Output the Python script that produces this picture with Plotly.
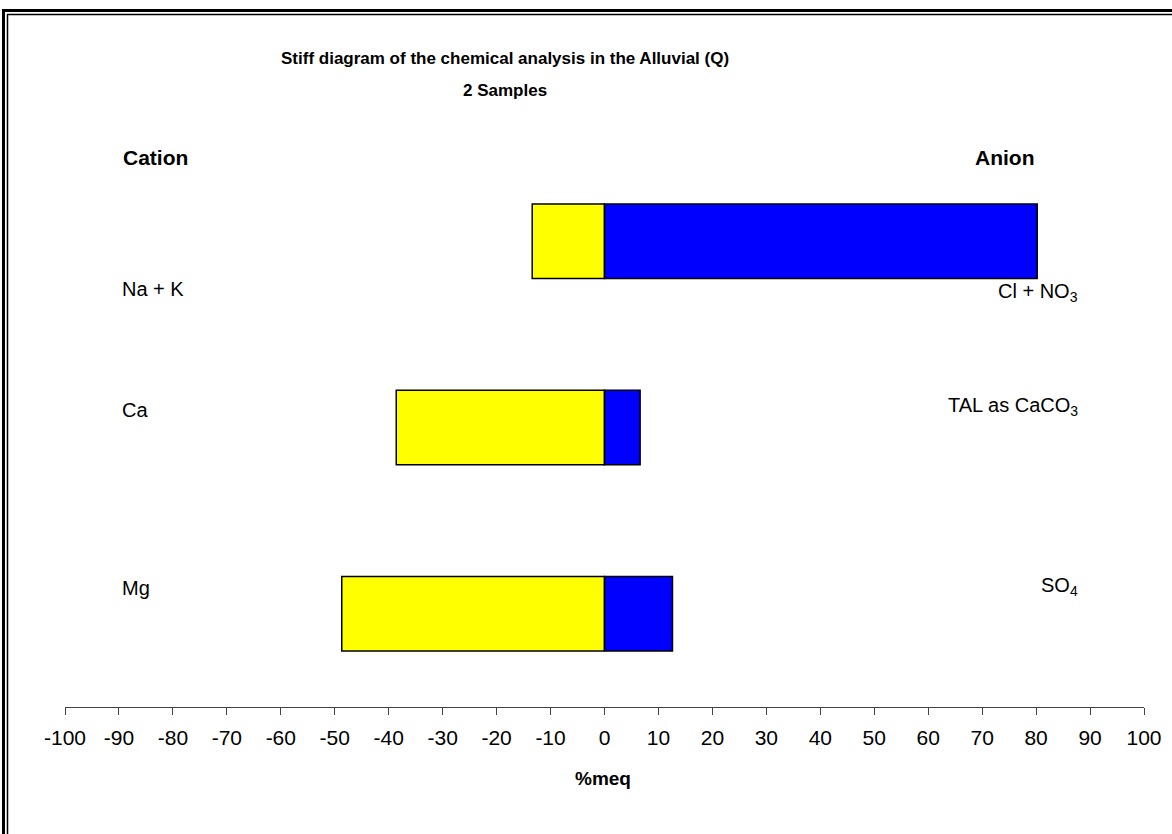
import plotly.graph_objects as go

# ---------------- data ----------------
cation_labels = ["Na + K", "Ca", "Mg"]
anion_labels = ["Cl + NO<sub>3</sub>", "TAL as CaCO<sub>3</sub>", "SO<sub>4</sub>"]
row_positions = [3, 2, 1]
cation_meq = [-13.4, -38.6, -48.7]   # % meq (plotted to the left)
anion_meq = [80.2, 6.6, 12.6]        # % meq (plotted to the right)
tick_values = list(range(-100, 101, 10))
tick_labels = [str(v) for v in tick_values]

title_line1 = "Stiff diagram of the chemical analysis in the Alluvial (Q)"
title_line2 = "2 Samples"
x_title = "%meq"

# ---------------- layout geometry (pixels) ----------------
W_FIG, H_FIG = 1172, 834
L, R, T, B = 65, 28, 148, 127
PW = W_FIG - L - R
PH = H_FIG - T - B
BOTTOM = H_FIG - B


def px(xp):
    return (xp - L) / PW


def py(yp):
    return (BOTTOM - yp) / PH


FONT = "Liberation Sans, Arial, sans-serif"

fig = go.Figure()
fig.add_trace(go.Bar(
    orientation="h", y=row_positions, x=cation_meq, width=0.4,
    marker=dict(color="#FFFF00", line=dict(color="#000000", width=1.5)),
    name="Cation", showlegend=False,
))
fig.add_trace(go.Bar(
    orientation="h", y=row_positions, x=anion_meq, width=0.4,
    marker=dict(color="#0000FF", line=dict(color="#000000", width=1.5)),
    name="Anion", showlegend=False,
))

annotations = []
# title
annotations.append(dict(text="<b>" + title_line1 + "</b>", x=px(505), y=py(58),
                        xref="paper", yref="paper", showarrow=False,
                        xanchor="center", yanchor="middle",
                        font=dict(family=FONT, size=17, color="black")))
annotations.append(dict(text="<b>" + title_line2 + "</b>", x=px(505), y=py(90),
                        xref="paper", yref="paper", showarrow=False,
                        xanchor="center", yanchor="middle",
                        font=dict(family=FONT, size=17, color="black")))
# headers
annotations.append(dict(text="<b>Cation</b>", x=px(121), y=py(157),
                        xref="paper", yref="paper", showarrow=False,
                        xanchor="left", yanchor="middle",
                        font=dict(family=FONT, size=21, color="black")))
annotations.append(dict(text="<b>Anion</b>", x=px(1036), y=py(157),
                        xref="paper", yref="paper", showarrow=False,
                        xanchor="right", yanchor="middle",
                        font=dict(family=FONT, size=21, color="black")))
# ion labels
left_label_y = [289, 410, 588]
right_label_y = [292, 406, 586]
for lab, yp in zip(cation_labels, left_label_y):
    annotations.append(dict(text=lab, x=px(120), y=py(yp), xref="paper", yref="paper",
                            showarrow=False, xanchor="left", yanchor="middle",
                            font=dict(family=FONT, size=20, color="black")))
for lab, yp in zip(anion_labels, right_label_y):
    annotations.append(dict(text=lab, x=px(1080), y=py(yp), xref="paper", yref="paper",
                            showarrow=False, xanchor="right", yanchor="middle",
                            font=dict(family=FONT, size=20, color="black")))
# x axis title
annotations.append(dict(text="<b>" + x_title + "</b>", x=px(603), y=py(778),
                        xref="paper", yref="paper", showarrow=False,
                        xanchor="center", yanchor="middle",
                        font=dict(family=FONT, size=19, color="black")))

shapes = [
    dict(type="rect", xref="paper", yref="paper",
         x0=px(3.5), y0=py(900), x1=px(1300), y1=py(10.5),
         line=dict(color="black", width=3), fillcolor="rgba(0,0,0,0)", layer="above"),
    dict(type="rect", xref="paper", yref="paper",
         x0=px(7.5), y0=py(900), x1=px(1300), y1=py(14.5),
         line=dict(color="black", width=1.5), fillcolor="rgba(0,0,0,0)", layer="above"),
]

fig.update_layout(
    width=W_FIG, height=H_FIG,
    margin=dict(l=L, r=R, t=T, b=B, autoexpand=False),
    paper_bgcolor="white", plot_bgcolor="white",
    barmode="relative", showlegend=False,
    annotations=annotations, shapes=shapes,
    xaxis=dict(range=[-100, 100], tickmode="array", tickvals=tick_values, ticktext=tick_labels,
               ticks="outside", ticklen=7, tickcolor="#444", tickwidth=1.3,
               showline=True, linecolor="#444", linewidth=1.3,
               showgrid=False, zeroline=False, automargin=False,
               ticklabelstandoff=5,
               tickfont=dict(family=FONT, size=21, color="black")),
    yaxis=dict(range=[0.5, 3.5], visible=False, showgrid=False, zeroline=False,
               fixedrange=True),
    font=dict(family=FONT, color="black"),
)

fig.write_html("out.html",
               config={"displayModeBar": False},
               post_script="document.body.style.margin='0';document.body.style.overflow='hidden';")
